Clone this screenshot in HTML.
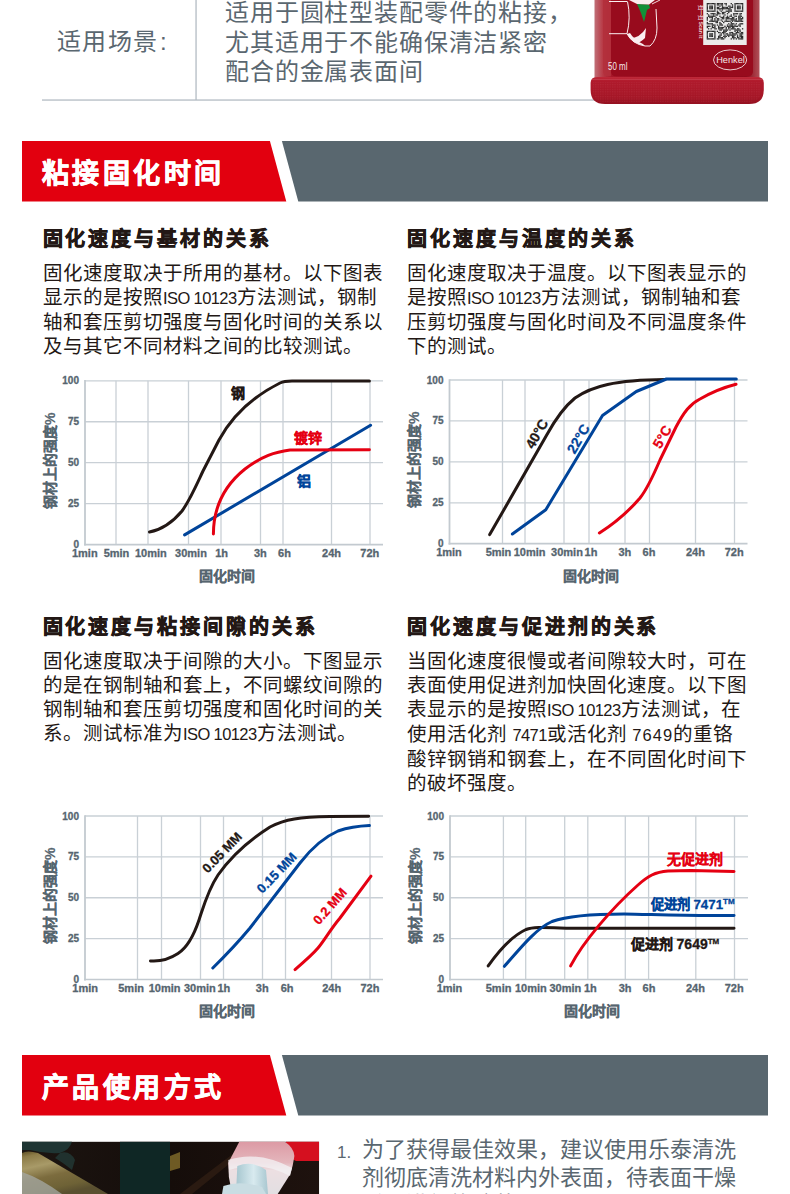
<!DOCTYPE html>
<html lang="zh-CN">
<head>
<meta charset="utf-8">
<style>
html,body{margin:0;padding:0;background:#fff;}
body{width:790px;height:1194px;position:relative;overflow:hidden;font-family:"Liberation Sans",sans-serif;}
.t{position:absolute;white-space:nowrap;}
.g{color:#5a6770;}
.k{color:#231815;}
.h{font-size:20px;line-height:32px;font-weight:bold;letter-spacing:2.95px;-webkit-text-stroke:0.7px #231815;}
.p{font-size:19.5px;line-height:24.1px;letter-spacing:0;}
.hd{font-size:27px;line-height:40px;color:#fff;font-weight:bold;letter-spacing:3.4px;-webkit-text-stroke:0.8px #fff;}
.l{font-size:16.5px;letter-spacing:-0.6px;}
svg text{font-family:"Liberation Sans",sans-serif;}
svg text.ns{stroke-width:0.2;}
</style>
</head>
<body>
<svg width="790" height="1194" style="position:absolute;left:0;top:0">
<rect x="42" y="99.4" width="560" height="1.3" fill="#b4bcc3"/>
<rect x="195.4" y="0" width="1.3" height="100" fill="#b4bcc3"/>
<polygon points="22,141 269.9,141 286.3,201.5 22,201.5" fill="#e2000f"/>
<polygon points="281.9,141 768,141 768,201.5 298.3,201.5" fill="#59676f"/>
<polygon points="22,1055 269.9,1055 286.3,1115.5 22,1115.5" fill="#e2000f"/>
<polygon points="281.9,1055 768,1055 768,1115.5 298.3,1115.5" fill="#59676f"/>
<line x1="85" y1="503.65" x2="383" y2="503.65" stroke="#c9d0d6" stroke-width="1.3"/>
<line x1="85" y1="462.70" x2="383" y2="462.70" stroke="#c9d0d6" stroke-width="1.3"/>
<line x1="85" y1="421.75" x2="383" y2="421.75" stroke="#c9d0d6" stroke-width="1.3"/>
<line x1="85" y1="380.80" x2="383" y2="380.80" stroke="#c9d0d6" stroke-width="1.3"/>
<line x1="116" y1="380.8" x2="116" y2="544.6" stroke="#c9d0d6" stroke-width="1.3"/>
<line x1="148" y1="380.8" x2="148" y2="544.6" stroke="#c9d0d6" stroke-width="1.3"/>
<line x1="188.5" y1="380.8" x2="188.5" y2="544.6" stroke="#c9d0d6" stroke-width="1.3"/>
<line x1="221" y1="380.8" x2="221" y2="544.6" stroke="#c9d0d6" stroke-width="1.3"/>
<line x1="260.5" y1="380.8" x2="260.5" y2="544.6" stroke="#c9d0d6" stroke-width="1.3"/>
<line x1="283" y1="380.8" x2="283" y2="544.6" stroke="#c9d0d6" stroke-width="1.3"/>
<line x1="331.5" y1="380.8" x2="331.5" y2="544.6" stroke="#c9d0d6" stroke-width="1.3"/>
<line x1="370" y1="380.8" x2="370" y2="544.6" stroke="#c9d0d6" stroke-width="1.3"/>
<line x1="85" y1="380.1" x2="85" y2="545.5" stroke="#c3cad0" stroke-width="1.8"/>
<line x1="84.1" y1="544.6" x2="383" y2="544.6" stroke="#c3cad0" stroke-width="1.7"/>
<text x="79" y="548.10" text-anchor="end" font-size="10" font-weight="bold" fill="#56656f" stroke="#56656f" stroke-width="0.3">0</text>
<text x="79" y="507.15" text-anchor="end" font-size="10" font-weight="bold" fill="#56656f" stroke="#56656f" stroke-width="0.3">25</text>
<text x="79" y="466.20" text-anchor="end" font-size="10" font-weight="bold" fill="#56656f" stroke="#56656f" stroke-width="0.3">50</text>
<text x="79" y="425.25" text-anchor="end" font-size="10" font-weight="bold" fill="#56656f" stroke="#56656f" stroke-width="0.3">75</text>
<text x="79" y="384.30" text-anchor="end" font-size="10" font-weight="bold" fill="#56656f" stroke="#56656f" stroke-width="0.3">100</text>
<text x="84.8" y="557.1" text-anchor="middle" font-size="11" font-weight="bold" fill="#56656f" stroke="#56656f" stroke-width="0.3">1min</text>
<text x="116.5" y="557.1" text-anchor="middle" font-size="11" font-weight="bold" fill="#56656f" stroke="#56656f" stroke-width="0.3">5min</text>
<text x="150.9" y="557.1" text-anchor="middle" font-size="11" font-weight="bold" fill="#56656f" stroke="#56656f" stroke-width="0.3">10min</text>
<text x="191" y="557.1" text-anchor="middle" font-size="11" font-weight="bold" fill="#56656f" stroke="#56656f" stroke-width="0.3">30min</text>
<text x="221.6" y="557.1" text-anchor="middle" font-size="11" font-weight="bold" fill="#56656f" stroke="#56656f" stroke-width="0.3">1h</text>
<text x="260.4" y="557.1" text-anchor="middle" font-size="11" font-weight="bold" fill="#56656f" stroke="#56656f" stroke-width="0.3">3h</text>
<text x="284.5" y="557.1" text-anchor="middle" font-size="11" font-weight="bold" fill="#56656f" stroke="#56656f" stroke-width="0.3">6h</text>
<text x="331.5" y="557.1" text-anchor="middle" font-size="11" font-weight="bold" fill="#56656f" stroke="#56656f" stroke-width="0.3">24h</text>
<text x="369.8" y="557.1" text-anchor="middle" font-size="11" font-weight="bold" fill="#56656f" stroke="#56656f" stroke-width="0.3">72h</text>
<text x="226.5" y="581.4" text-anchor="middle" font-size="14" font-weight="bold" fill="#56656f" stroke="#56656f" stroke-width="0.3" class="ns">固化时间</text>
<text x="50" y="460.70000000000005" transform="rotate(-90 50 460.70000000000005)" text-anchor="middle" dominant-baseline="central" font-size="14" font-weight="bold" fill="#56656f" stroke="#56656f" stroke-width="0.3" class="ns">钢材上的强度%</text>
<line x1="449.5" y1="502.78" x2="747.5" y2="502.78" stroke="#c9d0d6" stroke-width="1.3"/>
<line x1="449.5" y1="461.85" x2="747.5" y2="461.85" stroke="#c9d0d6" stroke-width="1.3"/>
<line x1="449.5" y1="420.93" x2="747.5" y2="420.93" stroke="#c9d0d6" stroke-width="1.3"/>
<line x1="449.5" y1="380.00" x2="747.5" y2="380.00" stroke="#c9d0d6" stroke-width="1.3"/>
<line x1="502.5" y1="380" x2="502.5" y2="543.7" stroke="#c9d0d6" stroke-width="1.3"/>
<line x1="525.0" y1="380" x2="525.0" y2="543.7" stroke="#c9d0d6" stroke-width="1.3"/>
<line x1="564.0" y1="380" x2="564.0" y2="543.7" stroke="#c9d0d6" stroke-width="1.3"/>
<line x1="589.0" y1="380" x2="589.0" y2="543.7" stroke="#c9d0d6" stroke-width="1.3"/>
<line x1="625.0" y1="380" x2="625.0" y2="543.7" stroke="#c9d0d6" stroke-width="1.3"/>
<line x1="649.5" y1="380" x2="649.5" y2="543.7" stroke="#c9d0d6" stroke-width="1.3"/>
<line x1="695.5" y1="380" x2="695.5" y2="543.7" stroke="#c9d0d6" stroke-width="1.3"/>
<line x1="734.5" y1="380" x2="734.5" y2="543.7" stroke="#c9d0d6" stroke-width="1.3"/>
<line x1="449.5" y1="379.3" x2="449.5" y2="544.6" stroke="#c3cad0" stroke-width="1.8"/>
<line x1="448.6" y1="543.7" x2="747.5" y2="543.7" stroke="#c3cad0" stroke-width="1.7"/>
<text x="443.5" y="547.20" text-anchor="end" font-size="10" font-weight="bold" fill="#56656f" stroke="#56656f" stroke-width="0.3">0</text>
<text x="443.5" y="506.28" text-anchor="end" font-size="10" font-weight="bold" fill="#56656f" stroke="#56656f" stroke-width="0.3">25</text>
<text x="443.5" y="465.35" text-anchor="end" font-size="10" font-weight="bold" fill="#56656f" stroke="#56656f" stroke-width="0.3">50</text>
<text x="443.5" y="424.43" text-anchor="end" font-size="10" font-weight="bold" fill="#56656f" stroke="#56656f" stroke-width="0.3">75</text>
<text x="443.5" y="383.50" text-anchor="end" font-size="10" font-weight="bold" fill="#56656f" stroke="#56656f" stroke-width="0.3">100</text>
<text x="449" y="556.2" text-anchor="middle" font-size="11" font-weight="bold" fill="#56656f" stroke="#56656f" stroke-width="0.3">1min</text>
<text x="498.5" y="556.2" text-anchor="middle" font-size="11" font-weight="bold" fill="#56656f" stroke="#56656f" stroke-width="0.3">5min</text>
<text x="529.6" y="556.2" text-anchor="middle" font-size="11" font-weight="bold" fill="#56656f" stroke="#56656f" stroke-width="0.3">10min</text>
<text x="567" y="556.2" text-anchor="middle" font-size="11" font-weight="bold" fill="#56656f" stroke="#56656f" stroke-width="0.3">30min</text>
<text x="591" y="556.2" text-anchor="middle" font-size="11" font-weight="bold" fill="#56656f" stroke="#56656f" stroke-width="0.3">1h</text>
<text x="624.9" y="556.2" text-anchor="middle" font-size="11" font-weight="bold" fill="#56656f" stroke="#56656f" stroke-width="0.3">3h</text>
<text x="649" y="556.2" text-anchor="middle" font-size="11" font-weight="bold" fill="#56656f" stroke="#56656f" stroke-width="0.3">6h</text>
<text x="695.4" y="556.2" text-anchor="middle" font-size="11" font-weight="bold" fill="#56656f" stroke="#56656f" stroke-width="0.3">24h</text>
<text x="734.2" y="556.2" text-anchor="middle" font-size="11" font-weight="bold" fill="#56656f" stroke="#56656f" stroke-width="0.3">72h</text>
<text x="591.0" y="580.5" text-anchor="middle" font-size="14" font-weight="bold" fill="#56656f" stroke="#56656f" stroke-width="0.3" class="ns">固化时间</text>
<text x="414.5" y="459.85" transform="rotate(-90 414.5 459.85)" text-anchor="middle" dominant-baseline="central" font-size="14" font-weight="bold" fill="#56656f" stroke="#56656f" stroke-width="0.3" class="ns">钢材上的强度%</text>
<line x1="85" y1="938.62" x2="383" y2="938.62" stroke="#c9d0d6" stroke-width="1.3"/>
<line x1="85" y1="897.75" x2="383" y2="897.75" stroke="#c9d0d6" stroke-width="1.3"/>
<line x1="85" y1="856.88" x2="383" y2="856.88" stroke="#c9d0d6" stroke-width="1.3"/>
<line x1="85" y1="816.00" x2="383" y2="816.00" stroke="#c9d0d6" stroke-width="1.3"/>
<line x1="137.5" y1="816" x2="137.5" y2="979.5" stroke="#c9d0d6" stroke-width="1.3"/>
<line x1="161.5" y1="816" x2="161.5" y2="979.5" stroke="#c9d0d6" stroke-width="1.3"/>
<line x1="200.5" y1="816" x2="200.5" y2="979.5" stroke="#c9d0d6" stroke-width="1.3"/>
<line x1="223.5" y1="816" x2="223.5" y2="979.5" stroke="#c9d0d6" stroke-width="1.3"/>
<line x1="262.5" y1="816" x2="262.5" y2="979.5" stroke="#c9d0d6" stroke-width="1.3"/>
<line x1="285.5" y1="816" x2="285.5" y2="979.5" stroke="#c9d0d6" stroke-width="1.3"/>
<line x1="331.5" y1="816" x2="331.5" y2="979.5" stroke="#c9d0d6" stroke-width="1.3"/>
<line x1="370" y1="816" x2="370" y2="979.5" stroke="#c9d0d6" stroke-width="1.3"/>
<line x1="85" y1="815.3" x2="85" y2="980.4" stroke="#c3cad0" stroke-width="1.8"/>
<line x1="84.1" y1="979.5" x2="383" y2="979.5" stroke="#c3cad0" stroke-width="1.7"/>
<text x="79" y="983.00" text-anchor="end" font-size="10" font-weight="bold" fill="#56656f" stroke="#56656f" stroke-width="0.3">0</text>
<text x="79" y="942.12" text-anchor="end" font-size="10" font-weight="bold" fill="#56656f" stroke="#56656f" stroke-width="0.3">25</text>
<text x="79" y="901.25" text-anchor="end" font-size="10" font-weight="bold" fill="#56656f" stroke="#56656f" stroke-width="0.3">50</text>
<text x="79" y="860.38" text-anchor="end" font-size="10" font-weight="bold" fill="#56656f" stroke="#56656f" stroke-width="0.3">75</text>
<text x="79" y="819.50" text-anchor="end" font-size="10" font-weight="bold" fill="#56656f" stroke="#56656f" stroke-width="0.3">100</text>
<text x="85.2" y="992.0" text-anchor="middle" font-size="11" font-weight="bold" fill="#56656f" stroke="#56656f" stroke-width="0.3">1min</text>
<text x="131.1" y="992.0" text-anchor="middle" font-size="11" font-weight="bold" fill="#56656f" stroke="#56656f" stroke-width="0.3">5min</text>
<text x="164.6" y="992.0" text-anchor="middle" font-size="11" font-weight="bold" fill="#56656f" stroke="#56656f" stroke-width="0.3">10min</text>
<text x="199.8" y="992.0" text-anchor="middle" font-size="11" font-weight="bold" fill="#56656f" stroke="#56656f" stroke-width="0.3">30min</text>
<text x="223.8" y="992.0" text-anchor="middle" font-size="11" font-weight="bold" fill="#56656f" stroke="#56656f" stroke-width="0.3">1h</text>
<text x="262.2" y="992.0" text-anchor="middle" font-size="11" font-weight="bold" fill="#56656f" stroke="#56656f" stroke-width="0.3">3h</text>
<text x="287.1" y="992.0" text-anchor="middle" font-size="11" font-weight="bold" fill="#56656f" stroke="#56656f" stroke-width="0.3">6h</text>
<text x="331.7" y="992.0" text-anchor="middle" font-size="11" font-weight="bold" fill="#56656f" stroke="#56656f" stroke-width="0.3">24h</text>
<text x="369.9" y="992.0" text-anchor="middle" font-size="11" font-weight="bold" fill="#56656f" stroke="#56656f" stroke-width="0.3">72h</text>
<text x="226.5" y="1016.3" text-anchor="middle" font-size="14" font-weight="bold" fill="#56656f" stroke="#56656f" stroke-width="0.3" class="ns">固化时间</text>
<text x="50" y="895.75" transform="rotate(-90 50 895.75)" text-anchor="middle" dominant-baseline="central" font-size="14" font-weight="bold" fill="#56656f" stroke="#56656f" stroke-width="0.3" class="ns">钢材上的强度%</text>
<line x1="450" y1="938.62" x2="748" y2="938.62" stroke="#c9d0d6" stroke-width="1.3"/>
<line x1="450" y1="897.75" x2="748" y2="897.75" stroke="#c9d0d6" stroke-width="1.3"/>
<line x1="450" y1="856.88" x2="748" y2="856.88" stroke="#c9d0d6" stroke-width="1.3"/>
<line x1="450" y1="816.00" x2="748" y2="816.00" stroke="#c9d0d6" stroke-width="1.3"/>
<line x1="503.4" y1="816" x2="503.4" y2="979.5" stroke="#c9d0d6" stroke-width="1.3"/>
<line x1="525.7" y1="816" x2="525.7" y2="979.5" stroke="#c9d0d6" stroke-width="1.3"/>
<line x1="564.7" y1="816" x2="564.7" y2="979.5" stroke="#c9d0d6" stroke-width="1.3"/>
<line x1="587.8" y1="816" x2="587.8" y2="979.5" stroke="#c9d0d6" stroke-width="1.3"/>
<line x1="625.3" y1="816" x2="625.3" y2="979.5" stroke="#c9d0d6" stroke-width="1.3"/>
<line x1="648.6" y1="816" x2="648.6" y2="979.5" stroke="#c9d0d6" stroke-width="1.3"/>
<line x1="695.8" y1="816" x2="695.8" y2="979.5" stroke="#c9d0d6" stroke-width="1.3"/>
<line x1="734.5" y1="816" x2="734.5" y2="979.5" stroke="#c9d0d6" stroke-width="1.3"/>
<line x1="450" y1="815.3" x2="450" y2="980.4" stroke="#c3cad0" stroke-width="1.8"/>
<line x1="449.1" y1="979.5" x2="748" y2="979.5" stroke="#c3cad0" stroke-width="1.7"/>
<text x="444" y="983.00" text-anchor="end" font-size="10" font-weight="bold" fill="#56656f" stroke="#56656f" stroke-width="0.3">0</text>
<text x="444" y="942.12" text-anchor="end" font-size="10" font-weight="bold" fill="#56656f" stroke="#56656f" stroke-width="0.3">25</text>
<text x="444" y="901.25" text-anchor="end" font-size="10" font-weight="bold" fill="#56656f" stroke="#56656f" stroke-width="0.3">50</text>
<text x="444" y="860.38" text-anchor="end" font-size="10" font-weight="bold" fill="#56656f" stroke="#56656f" stroke-width="0.3">75</text>
<text x="444" y="819.50" text-anchor="end" font-size="10" font-weight="bold" fill="#56656f" stroke="#56656f" stroke-width="0.3">100</text>
<text x="449.5" y="992.0" text-anchor="middle" font-size="11" font-weight="bold" fill="#56656f" stroke="#56656f" stroke-width="0.3">1min</text>
<text x="498.6" y="992.0" text-anchor="middle" font-size="11" font-weight="bold" fill="#56656f" stroke="#56656f" stroke-width="0.3">5min</text>
<text x="530.8" y="992.0" text-anchor="middle" font-size="11" font-weight="bold" fill="#56656f" stroke="#56656f" stroke-width="0.3">10min</text>
<text x="565.4" y="992.0" text-anchor="middle" font-size="11" font-weight="bold" fill="#56656f" stroke="#56656f" stroke-width="0.3">30min</text>
<text x="590.3" y="992.0" text-anchor="middle" font-size="11" font-weight="bold" fill="#56656f" stroke="#56656f" stroke-width="0.3">1h</text>
<text x="625.1" y="992.0" text-anchor="middle" font-size="11" font-weight="bold" fill="#56656f" stroke="#56656f" stroke-width="0.3">3h</text>
<text x="649" y="992.0" text-anchor="middle" font-size="11" font-weight="bold" fill="#56656f" stroke="#56656f" stroke-width="0.3">6h</text>
<text x="695.4" y="992.0" text-anchor="middle" font-size="11" font-weight="bold" fill="#56656f" stroke="#56656f" stroke-width="0.3">24h</text>
<text x="734.2" y="992.0" text-anchor="middle" font-size="11" font-weight="bold" fill="#56656f" stroke="#56656f" stroke-width="0.3">72h</text>
<text x="591.5" y="1016.3" text-anchor="middle" font-size="14" font-weight="bold" fill="#56656f" stroke="#56656f" stroke-width="0.3" class="ns">固化时间</text>
<text x="415" y="895.75" transform="rotate(-90 415 895.75)" text-anchor="middle" dominant-baseline="central" font-size="14" font-weight="bold" fill="#56656f" stroke="#56656f" stroke-width="0.3" class="ns">钢材上的强度%</text>
<path d="M149.5,532 C160,530 172,523 182,511 C190,500 196,486 203,471 L219,440 C230,420 250,398 280,383 C283,381.6 286,381.1 292,381.1 L369.4,381.1" fill="none" stroke="#231815" stroke-width="3" stroke-linecap="round" stroke-linejoin="round"/>
<path d="M184.6,534.9 L370.6,425.2" fill="none" stroke="#00449a" stroke-width="3" stroke-linecap="round" stroke-linejoin="round"/>
<path d="M213.4,534 C213.5,505 225,485 245,469 C262,456 275,452 290,450 L369.4,449.8" fill="none" stroke="#e50012" stroke-width="3" stroke-linecap="round" stroke-linejoin="round"/>
<text x="237.5" y="398" text-anchor="middle" font-size="14" font-weight="bold" fill="#231815" stroke="#231815" stroke-width="0.3">钢</text>
<text x="307.7" y="443" text-anchor="middle" font-size="14" font-weight="bold" fill="#e50012" stroke="#e50012" stroke-width="0.3">镀锌</text>
<text x="304.4" y="486" text-anchor="middle" font-size="14" font-weight="bold" fill="#00449a" stroke="#00449a" stroke-width="0.3">铝</text>
<path d="M489.7,534.6 L547,434.5 C555,420 564,407 575,398 C592,386 615,380 665,379.5" fill="none" stroke="#231815" stroke-width="3" stroke-linecap="round" stroke-linejoin="round"/>
<path d="M512.4,534 L545.8,509.7 L602.5,415.5 L636.3,391.5 L666.4,379 L736.3,379" fill="none" stroke="#00449a" stroke-width="3" stroke-linecap="round" stroke-linejoin="round"/>
<path d="M599.4,533 C612,525 628,512 640,498 C648,488 654,474 660,460 L676,427 C684,412 690,404 700,399 C712,392 725,387 736,384.2" fill="none" stroke="#e50012" stroke-width="3" stroke-linecap="round" stroke-linejoin="round"/>
<text x="536.7" y="433.7" transform="rotate(-60 536.7 433.7)" text-anchor="middle" dominant-baseline="central" font-size="14" font-weight="bold" fill="#231815" stroke="#231815" stroke-width="0.3">40°C</text>
<text x="578.2" y="438.8" transform="rotate(-60 578.2 438.8)" text-anchor="middle" dominant-baseline="central" font-size="14" font-weight="bold" fill="#00449a" stroke="#00449a" stroke-width="0.3">22°C</text>
<text x="662.1" y="436.7" transform="rotate(-60 662.1 436.7)" text-anchor="middle" dominant-baseline="central" font-size="14" font-weight="bold" fill="#e50012" stroke="#e50012" stroke-width="0.3">5°C</text>
<path d="M150.5,960.9 C158,961.5 168,960 178,953.5 C188,947 194,935 199,920 C204,905 208,890 218,875 C230,858 248,841 270,827 C285,819 300,817 330,816.5 L368.6,816.2" fill="none" stroke="#231815" stroke-width="3" stroke-linecap="round" stroke-linejoin="round"/>
<path d="M212.8,968 C225,956 240,940 250,928 L300,863 C310,850 322,838 338,831 C350,827 360,826 369.4,825.6" fill="none" stroke="#00449a" stroke-width="3" stroke-linecap="round" stroke-linejoin="round"/>
<path d="M295,969.6 C305,961 312,955 318,948 C324,941 330,930 340,918 L371,876.2" fill="none" stroke="#e50012" stroke-width="3" stroke-linecap="round" stroke-linejoin="round"/>
<text x="222" y="852.5" transform="rotate(-46 222 852.5)" text-anchor="middle" dominant-baseline="central" font-size="13" font-weight="bold" fill="#231815" stroke="#231815" stroke-width="0.3">0.05 MM</text>
<text x="276.7" y="872.8" transform="rotate(-46 276.7 872.8)" text-anchor="middle" dominant-baseline="central" font-size="13" font-weight="bold" fill="#00449a" stroke="#00449a" stroke-width="0.3">0.15 MM</text>
<text x="329.9" y="906.2" transform="rotate(-49 329.9 906.2)" text-anchor="middle" dominant-baseline="central" font-size="13" font-weight="bold" fill="#e50012" stroke="#e50012" stroke-width="0.3">0.2 MM</text>
<path d="M488.2,965.9 C498,952 512,936 526,929.5 C534,926.5 545,927.5 571,928.3 L734,928.2" fill="none" stroke="#231815" stroke-width="3" stroke-linecap="round" stroke-linejoin="round"/>
<path d="M504.4,966.3 C518,951 535,929 552,921.5 C570,915 600,914 624,914 C650,914.3 690,916.3 734,915.4" fill="none" stroke="#00449a" stroke-width="3" stroke-linecap="round" stroke-linejoin="round"/>
<path d="M570.6,965.9 C583,942 612,908 638,885 C648,876 655,872 668,871 L691,870.6 L734,871.5" fill="none" stroke="#e50012" stroke-width="3" stroke-linecap="round" stroke-linejoin="round"/>
<text x="695" y="864" text-anchor="middle" font-size="14" font-weight="bold" fill="#e50012" stroke="#e50012" stroke-width="0.3">无促进剂</text>
<text x="692.7" y="908.5" text-anchor="middle" font-size="13.3" font-weight="bold" fill="#00449a" stroke="#00449a" stroke-width="0.3">促进剂 7471<tspan font-size="8" dy="-5">TM</tspan></text>
<text x="675" y="948.5" text-anchor="middle" font-size="14" font-weight="bold" fill="#231815" stroke="#231815" stroke-width="0.3">促进剂 7649<tspan font-size="8" dy="-5">TM</tspan></text>
<g id="bottle">
<defs>
 <linearGradient id="bodyg" x1="0" y1="0" x2="1" y2="0">
  <stop offset="0" stop-color="#c07078"/>
  <stop offset="0.05" stop-color="#b83a46"/>
  <stop offset="0.1" stop-color="#a8182a"/>
  <stop offset="0.5" stop-color="#9a0c1e"/>
  <stop offset="0.92" stop-color="#8e0a1a"/>
  <stop offset="1" stop-color="#b05058"/>
 </linearGradient>
 <linearGradient id="baseg" x1="0" y1="0" x2="0" y2="1">
  <stop offset="0" stop-color="#bf2a3a"/>
  <stop offset="0.15" stop-color="#b01a2c"/>
  <stop offset="0.75" stop-color="#a51626"/>
  <stop offset="1" stop-color="#941020"/>
 </linearGradient>
 <pattern id="dots" x="0" y="0" width="2.4" height="2.4" patternUnits="userSpaceOnUse">
  <rect x="0" y="0" width="1.2" height="1.2" fill="#c85060" opacity="0.22"/>
 </pattern>
</defs>
<rect x="594.5" y="0" width="165" height="80" fill="url(#bodyg)"/>
<path d="M611,0 L753,0 L753,71 Q753,76.3 748,76.3 L616,76.3 Q611,76.3 611,71 Z" fill="#980b1d"/>
<path d="M603,0 L611,0 L611,76.3 L608,76.3 Q603,76.3 603,71 Z" fill="#b3303c" opacity="0.9"/>
<rect x="703.2" y="0" width="43.5" height="45" fill="#ecebeb"/>
<rect x="706.70" y="3.00" width="1.31" height="1.31" fill="#2a2a2a"/>
<rect x="707.96" y="3.00" width="1.31" height="1.31" fill="#2a2a2a"/>
<rect x="709.22" y="3.00" width="1.31" height="1.31" fill="#2a2a2a"/>
<rect x="710.48" y="3.00" width="1.31" height="1.31" fill="#2a2a2a"/>
<rect x="711.73" y="3.00" width="1.31" height="1.31" fill="#2a2a2a"/>
<rect x="712.99" y="3.00" width="1.31" height="1.31" fill="#2a2a2a"/>
<rect x="714.25" y="3.00" width="1.31" height="1.31" fill="#2a2a2a"/>
<rect x="716.77" y="3.00" width="1.31" height="1.31" fill="#2a2a2a"/>
<rect x="718.03" y="3.00" width="1.31" height="1.31" fill="#2a2a2a"/>
<rect x="719.29" y="3.00" width="1.31" height="1.31" fill="#2a2a2a"/>
<rect x="720.54" y="3.00" width="1.31" height="1.31" fill="#2a2a2a"/>
<rect x="721.80" y="3.00" width="1.31" height="1.31" fill="#2a2a2a"/>
<rect x="724.32" y="3.00" width="1.31" height="1.31" fill="#2a2a2a"/>
<rect x="725.58" y="3.00" width="1.31" height="1.31" fill="#2a2a2a"/>
<rect x="730.61" y="3.00" width="1.31" height="1.31" fill="#2a2a2a"/>
<rect x="734.39" y="3.00" width="1.31" height="1.31" fill="#2a2a2a"/>
<rect x="735.65" y="3.00" width="1.31" height="1.31" fill="#2a2a2a"/>
<rect x="736.91" y="3.00" width="1.31" height="1.31" fill="#2a2a2a"/>
<rect x="738.17" y="3.00" width="1.31" height="1.31" fill="#2a2a2a"/>
<rect x="739.42" y="3.00" width="1.31" height="1.31" fill="#2a2a2a"/>
<rect x="740.68" y="3.00" width="1.31" height="1.31" fill="#2a2a2a"/>
<rect x="741.94" y="3.00" width="1.31" height="1.31" fill="#2a2a2a"/>
<rect x="706.70" y="4.26" width="1.31" height="1.31" fill="#2a2a2a"/>
<rect x="714.25" y="4.26" width="1.31" height="1.31" fill="#2a2a2a"/>
<rect x="716.77" y="4.26" width="1.31" height="1.31" fill="#2a2a2a"/>
<rect x="718.03" y="4.26" width="1.31" height="1.31" fill="#2a2a2a"/>
<rect x="720.54" y="4.26" width="1.31" height="1.31" fill="#2a2a2a"/>
<rect x="721.80" y="4.26" width="1.31" height="1.31" fill="#2a2a2a"/>
<rect x="725.58" y="4.26" width="1.31" height="1.31" fill="#2a2a2a"/>
<rect x="731.87" y="4.26" width="1.31" height="1.31" fill="#2a2a2a"/>
<rect x="734.39" y="4.26" width="1.31" height="1.31" fill="#2a2a2a"/>
<rect x="741.94" y="4.26" width="1.31" height="1.31" fill="#2a2a2a"/>
<rect x="706.70" y="5.52" width="1.31" height="1.31" fill="#2a2a2a"/>
<rect x="709.22" y="5.52" width="1.31" height="1.31" fill="#2a2a2a"/>
<rect x="710.48" y="5.52" width="1.31" height="1.31" fill="#2a2a2a"/>
<rect x="711.73" y="5.52" width="1.31" height="1.31" fill="#2a2a2a"/>
<rect x="714.25" y="5.52" width="1.31" height="1.31" fill="#2a2a2a"/>
<rect x="719.29" y="5.52" width="1.31" height="1.31" fill="#2a2a2a"/>
<rect x="721.80" y="5.52" width="1.31" height="1.31" fill="#2a2a2a"/>
<rect x="728.10" y="5.52" width="1.31" height="1.31" fill="#2a2a2a"/>
<rect x="729.36" y="5.52" width="1.31" height="1.31" fill="#2a2a2a"/>
<rect x="731.87" y="5.52" width="1.31" height="1.31" fill="#2a2a2a"/>
<rect x="734.39" y="5.52" width="1.31" height="1.31" fill="#2a2a2a"/>
<rect x="736.91" y="5.52" width="1.31" height="1.31" fill="#2a2a2a"/>
<rect x="738.17" y="5.52" width="1.31" height="1.31" fill="#2a2a2a"/>
<rect x="739.42" y="5.52" width="1.31" height="1.31" fill="#2a2a2a"/>
<rect x="741.94" y="5.52" width="1.31" height="1.31" fill="#2a2a2a"/>
<rect x="706.70" y="6.78" width="1.31" height="1.31" fill="#2a2a2a"/>
<rect x="709.22" y="6.78" width="1.31" height="1.31" fill="#2a2a2a"/>
<rect x="710.48" y="6.78" width="1.31" height="1.31" fill="#2a2a2a"/>
<rect x="711.73" y="6.78" width="1.31" height="1.31" fill="#2a2a2a"/>
<rect x="714.25" y="6.78" width="1.31" height="1.31" fill="#2a2a2a"/>
<rect x="716.77" y="6.78" width="1.31" height="1.31" fill="#2a2a2a"/>
<rect x="718.03" y="6.78" width="1.31" height="1.31" fill="#2a2a2a"/>
<rect x="721.80" y="6.78" width="1.31" height="1.31" fill="#2a2a2a"/>
<rect x="723.06" y="6.78" width="1.31" height="1.31" fill="#2a2a2a"/>
<rect x="724.32" y="6.78" width="1.31" height="1.31" fill="#2a2a2a"/>
<rect x="725.58" y="6.78" width="1.31" height="1.31" fill="#2a2a2a"/>
<rect x="726.84" y="6.78" width="1.31" height="1.31" fill="#2a2a2a"/>
<rect x="729.36" y="6.78" width="1.31" height="1.31" fill="#2a2a2a"/>
<rect x="730.61" y="6.78" width="1.31" height="1.31" fill="#2a2a2a"/>
<rect x="731.87" y="6.78" width="1.31" height="1.31" fill="#2a2a2a"/>
<rect x="734.39" y="6.78" width="1.31" height="1.31" fill="#2a2a2a"/>
<rect x="736.91" y="6.78" width="1.31" height="1.31" fill="#2a2a2a"/>
<rect x="738.17" y="6.78" width="1.31" height="1.31" fill="#2a2a2a"/>
<rect x="739.42" y="6.78" width="1.31" height="1.31" fill="#2a2a2a"/>
<rect x="741.94" y="6.78" width="1.31" height="1.31" fill="#2a2a2a"/>
<rect x="706.70" y="8.03" width="1.31" height="1.31" fill="#2a2a2a"/>
<rect x="709.22" y="8.03" width="1.31" height="1.31" fill="#2a2a2a"/>
<rect x="710.48" y="8.03" width="1.31" height="1.31" fill="#2a2a2a"/>
<rect x="711.73" y="8.03" width="1.31" height="1.31" fill="#2a2a2a"/>
<rect x="714.25" y="8.03" width="1.31" height="1.31" fill="#2a2a2a"/>
<rect x="716.77" y="8.03" width="1.31" height="1.31" fill="#2a2a2a"/>
<rect x="718.03" y="8.03" width="1.31" height="1.31" fill="#2a2a2a"/>
<rect x="719.29" y="8.03" width="1.31" height="1.31" fill="#2a2a2a"/>
<rect x="720.54" y="8.03" width="1.31" height="1.31" fill="#2a2a2a"/>
<rect x="721.80" y="8.03" width="1.31" height="1.31" fill="#2a2a2a"/>
<rect x="723.06" y="8.03" width="1.31" height="1.31" fill="#2a2a2a"/>
<rect x="724.32" y="8.03" width="1.31" height="1.31" fill="#2a2a2a"/>
<rect x="725.58" y="8.03" width="1.31" height="1.31" fill="#2a2a2a"/>
<rect x="726.84" y="8.03" width="1.31" height="1.31" fill="#2a2a2a"/>
<rect x="728.10" y="8.03" width="1.31" height="1.31" fill="#2a2a2a"/>
<rect x="729.36" y="8.03" width="1.31" height="1.31" fill="#2a2a2a"/>
<rect x="734.39" y="8.03" width="1.31" height="1.31" fill="#2a2a2a"/>
<rect x="736.91" y="8.03" width="1.31" height="1.31" fill="#2a2a2a"/>
<rect x="738.17" y="8.03" width="1.31" height="1.31" fill="#2a2a2a"/>
<rect x="739.42" y="8.03" width="1.31" height="1.31" fill="#2a2a2a"/>
<rect x="741.94" y="8.03" width="1.31" height="1.31" fill="#2a2a2a"/>
<rect x="706.70" y="9.29" width="1.31" height="1.31" fill="#2a2a2a"/>
<rect x="714.25" y="9.29" width="1.31" height="1.31" fill="#2a2a2a"/>
<rect x="719.29" y="9.29" width="1.31" height="1.31" fill="#2a2a2a"/>
<rect x="721.80" y="9.29" width="1.31" height="1.31" fill="#2a2a2a"/>
<rect x="728.10" y="9.29" width="1.31" height="1.31" fill="#2a2a2a"/>
<rect x="729.36" y="9.29" width="1.31" height="1.31" fill="#2a2a2a"/>
<rect x="730.61" y="9.29" width="1.31" height="1.31" fill="#2a2a2a"/>
<rect x="734.39" y="9.29" width="1.31" height="1.31" fill="#2a2a2a"/>
<rect x="741.94" y="9.29" width="1.31" height="1.31" fill="#2a2a2a"/>
<rect x="706.70" y="10.55" width="1.31" height="1.31" fill="#2a2a2a"/>
<rect x="707.96" y="10.55" width="1.31" height="1.31" fill="#2a2a2a"/>
<rect x="709.22" y="10.55" width="1.31" height="1.31" fill="#2a2a2a"/>
<rect x="710.48" y="10.55" width="1.31" height="1.31" fill="#2a2a2a"/>
<rect x="711.73" y="10.55" width="1.31" height="1.31" fill="#2a2a2a"/>
<rect x="712.99" y="10.55" width="1.31" height="1.31" fill="#2a2a2a"/>
<rect x="714.25" y="10.55" width="1.31" height="1.31" fill="#2a2a2a"/>
<rect x="716.77" y="10.55" width="1.31" height="1.31" fill="#2a2a2a"/>
<rect x="720.54" y="10.55" width="1.31" height="1.31" fill="#2a2a2a"/>
<rect x="725.58" y="10.55" width="1.31" height="1.31" fill="#2a2a2a"/>
<rect x="726.84" y="10.55" width="1.31" height="1.31" fill="#2a2a2a"/>
<rect x="728.10" y="10.55" width="1.31" height="1.31" fill="#2a2a2a"/>
<rect x="729.36" y="10.55" width="1.31" height="1.31" fill="#2a2a2a"/>
<rect x="730.61" y="10.55" width="1.31" height="1.31" fill="#2a2a2a"/>
<rect x="734.39" y="10.55" width="1.31" height="1.31" fill="#2a2a2a"/>
<rect x="735.65" y="10.55" width="1.31" height="1.31" fill="#2a2a2a"/>
<rect x="736.91" y="10.55" width="1.31" height="1.31" fill="#2a2a2a"/>
<rect x="738.17" y="10.55" width="1.31" height="1.31" fill="#2a2a2a"/>
<rect x="739.42" y="10.55" width="1.31" height="1.31" fill="#2a2a2a"/>
<rect x="740.68" y="10.55" width="1.31" height="1.31" fill="#2a2a2a"/>
<rect x="741.94" y="10.55" width="1.31" height="1.31" fill="#2a2a2a"/>
<rect x="716.77" y="11.81" width="1.31" height="1.31" fill="#2a2a2a"/>
<rect x="718.03" y="11.81" width="1.31" height="1.31" fill="#2a2a2a"/>
<rect x="721.80" y="11.81" width="1.31" height="1.31" fill="#2a2a2a"/>
<rect x="723.06" y="11.81" width="1.31" height="1.31" fill="#2a2a2a"/>
<rect x="724.32" y="11.81" width="1.31" height="1.31" fill="#2a2a2a"/>
<rect x="728.10" y="11.81" width="1.31" height="1.31" fill="#2a2a2a"/>
<rect x="706.70" y="13.07" width="1.31" height="1.31" fill="#2a2a2a"/>
<rect x="710.48" y="13.07" width="1.31" height="1.31" fill="#2a2a2a"/>
<rect x="711.73" y="13.07" width="1.31" height="1.31" fill="#2a2a2a"/>
<rect x="712.99" y="13.07" width="1.31" height="1.31" fill="#2a2a2a"/>
<rect x="714.25" y="13.07" width="1.31" height="1.31" fill="#2a2a2a"/>
<rect x="716.77" y="13.07" width="1.31" height="1.31" fill="#2a2a2a"/>
<rect x="718.03" y="13.07" width="1.31" height="1.31" fill="#2a2a2a"/>
<rect x="719.29" y="13.07" width="1.31" height="1.31" fill="#2a2a2a"/>
<rect x="721.80" y="13.07" width="1.31" height="1.31" fill="#2a2a2a"/>
<rect x="723.06" y="13.07" width="1.31" height="1.31" fill="#2a2a2a"/>
<rect x="726.84" y="13.07" width="1.31" height="1.31" fill="#2a2a2a"/>
<rect x="733.13" y="13.07" width="1.31" height="1.31" fill="#2a2a2a"/>
<rect x="734.39" y="13.07" width="1.31" height="1.31" fill="#2a2a2a"/>
<rect x="735.65" y="13.07" width="1.31" height="1.31" fill="#2a2a2a"/>
<rect x="736.91" y="13.07" width="1.31" height="1.31" fill="#2a2a2a"/>
<rect x="739.42" y="13.07" width="1.31" height="1.31" fill="#2a2a2a"/>
<rect x="740.68" y="13.07" width="1.31" height="1.31" fill="#2a2a2a"/>
<rect x="707.96" y="14.33" width="1.31" height="1.31" fill="#2a2a2a"/>
<rect x="712.99" y="14.33" width="1.31" height="1.31" fill="#2a2a2a"/>
<rect x="715.51" y="14.33" width="1.31" height="1.31" fill="#2a2a2a"/>
<rect x="716.77" y="14.33" width="1.31" height="1.31" fill="#2a2a2a"/>
<rect x="724.32" y="14.33" width="1.31" height="1.31" fill="#2a2a2a"/>
<rect x="730.61" y="14.33" width="1.31" height="1.31" fill="#2a2a2a"/>
<rect x="733.13" y="14.33" width="1.31" height="1.31" fill="#2a2a2a"/>
<rect x="739.42" y="14.33" width="1.31" height="1.31" fill="#2a2a2a"/>
<rect x="707.96" y="15.59" width="1.31" height="1.31" fill="#2a2a2a"/>
<rect x="709.22" y="15.59" width="1.31" height="1.31" fill="#2a2a2a"/>
<rect x="710.48" y="15.59" width="1.31" height="1.31" fill="#2a2a2a"/>
<rect x="711.73" y="15.59" width="1.31" height="1.31" fill="#2a2a2a"/>
<rect x="712.99" y="15.59" width="1.31" height="1.31" fill="#2a2a2a"/>
<rect x="714.25" y="15.59" width="1.31" height="1.31" fill="#2a2a2a"/>
<rect x="719.29" y="15.59" width="1.31" height="1.31" fill="#2a2a2a"/>
<rect x="723.06" y="15.59" width="1.31" height="1.31" fill="#2a2a2a"/>
<rect x="726.84" y="15.59" width="1.31" height="1.31" fill="#2a2a2a"/>
<rect x="729.36" y="15.59" width="1.31" height="1.31" fill="#2a2a2a"/>
<rect x="730.61" y="15.59" width="1.31" height="1.31" fill="#2a2a2a"/>
<rect x="734.39" y="15.59" width="1.31" height="1.31" fill="#2a2a2a"/>
<rect x="735.65" y="15.59" width="1.31" height="1.31" fill="#2a2a2a"/>
<rect x="738.17" y="15.59" width="1.31" height="1.31" fill="#2a2a2a"/>
<rect x="739.42" y="15.59" width="1.31" height="1.31" fill="#2a2a2a"/>
<rect x="740.68" y="15.59" width="1.31" height="1.31" fill="#2a2a2a"/>
<rect x="706.70" y="16.84" width="1.31" height="1.31" fill="#2a2a2a"/>
<rect x="709.22" y="16.84" width="1.31" height="1.31" fill="#2a2a2a"/>
<rect x="710.48" y="16.84" width="1.31" height="1.31" fill="#2a2a2a"/>
<rect x="711.73" y="16.84" width="1.31" height="1.31" fill="#2a2a2a"/>
<rect x="715.51" y="16.84" width="1.31" height="1.31" fill="#2a2a2a"/>
<rect x="720.54" y="16.84" width="1.31" height="1.31" fill="#2a2a2a"/>
<rect x="721.80" y="16.84" width="1.31" height="1.31" fill="#2a2a2a"/>
<rect x="723.06" y="16.84" width="1.31" height="1.31" fill="#2a2a2a"/>
<rect x="725.58" y="16.84" width="1.31" height="1.31" fill="#2a2a2a"/>
<rect x="726.84" y="16.84" width="1.31" height="1.31" fill="#2a2a2a"/>
<rect x="728.10" y="16.84" width="1.31" height="1.31" fill="#2a2a2a"/>
<rect x="731.87" y="16.84" width="1.31" height="1.31" fill="#2a2a2a"/>
<rect x="733.13" y="16.84" width="1.31" height="1.31" fill="#2a2a2a"/>
<rect x="738.17" y="16.84" width="1.31" height="1.31" fill="#2a2a2a"/>
<rect x="739.42" y="16.84" width="1.31" height="1.31" fill="#2a2a2a"/>
<rect x="741.94" y="16.84" width="1.31" height="1.31" fill="#2a2a2a"/>
<rect x="706.70" y="18.10" width="1.31" height="1.31" fill="#2a2a2a"/>
<rect x="711.73" y="18.10" width="1.31" height="1.31" fill="#2a2a2a"/>
<rect x="714.25" y="18.10" width="1.31" height="1.31" fill="#2a2a2a"/>
<rect x="716.77" y="18.10" width="1.31" height="1.31" fill="#2a2a2a"/>
<rect x="718.03" y="18.10" width="1.31" height="1.31" fill="#2a2a2a"/>
<rect x="721.80" y="18.10" width="1.31" height="1.31" fill="#2a2a2a"/>
<rect x="723.06" y="18.10" width="1.31" height="1.31" fill="#2a2a2a"/>
<rect x="725.58" y="18.10" width="1.31" height="1.31" fill="#2a2a2a"/>
<rect x="726.84" y="18.10" width="1.31" height="1.31" fill="#2a2a2a"/>
<rect x="728.10" y="18.10" width="1.31" height="1.31" fill="#2a2a2a"/>
<rect x="729.36" y="18.10" width="1.31" height="1.31" fill="#2a2a2a"/>
<rect x="730.61" y="18.10" width="1.31" height="1.31" fill="#2a2a2a"/>
<rect x="731.87" y="18.10" width="1.31" height="1.31" fill="#2a2a2a"/>
<rect x="733.13" y="18.10" width="1.31" height="1.31" fill="#2a2a2a"/>
<rect x="735.65" y="18.10" width="1.31" height="1.31" fill="#2a2a2a"/>
<rect x="738.17" y="18.10" width="1.31" height="1.31" fill="#2a2a2a"/>
<rect x="739.42" y="18.10" width="1.31" height="1.31" fill="#2a2a2a"/>
<rect x="740.68" y="18.10" width="1.31" height="1.31" fill="#2a2a2a"/>
<rect x="741.94" y="18.10" width="1.31" height="1.31" fill="#2a2a2a"/>
<rect x="706.70" y="19.36" width="1.31" height="1.31" fill="#2a2a2a"/>
<rect x="710.48" y="19.36" width="1.31" height="1.31" fill="#2a2a2a"/>
<rect x="711.73" y="19.36" width="1.31" height="1.31" fill="#2a2a2a"/>
<rect x="714.25" y="19.36" width="1.31" height="1.31" fill="#2a2a2a"/>
<rect x="716.77" y="19.36" width="1.31" height="1.31" fill="#2a2a2a"/>
<rect x="718.03" y="19.36" width="1.31" height="1.31" fill="#2a2a2a"/>
<rect x="720.54" y="19.36" width="1.31" height="1.31" fill="#2a2a2a"/>
<rect x="725.58" y="19.36" width="1.31" height="1.31" fill="#2a2a2a"/>
<rect x="730.61" y="19.36" width="1.31" height="1.31" fill="#2a2a2a"/>
<rect x="731.87" y="19.36" width="1.31" height="1.31" fill="#2a2a2a"/>
<rect x="733.13" y="19.36" width="1.31" height="1.31" fill="#2a2a2a"/>
<rect x="734.39" y="19.36" width="1.31" height="1.31" fill="#2a2a2a"/>
<rect x="735.65" y="19.36" width="1.31" height="1.31" fill="#2a2a2a"/>
<rect x="738.17" y="19.36" width="1.31" height="1.31" fill="#2a2a2a"/>
<rect x="739.42" y="19.36" width="1.31" height="1.31" fill="#2a2a2a"/>
<rect x="740.68" y="19.36" width="1.31" height="1.31" fill="#2a2a2a"/>
<rect x="709.22" y="20.62" width="1.31" height="1.31" fill="#2a2a2a"/>
<rect x="710.48" y="20.62" width="1.31" height="1.31" fill="#2a2a2a"/>
<rect x="711.73" y="20.62" width="1.31" height="1.31" fill="#2a2a2a"/>
<rect x="712.99" y="20.62" width="1.31" height="1.31" fill="#2a2a2a"/>
<rect x="714.25" y="20.62" width="1.31" height="1.31" fill="#2a2a2a"/>
<rect x="715.51" y="20.62" width="1.31" height="1.31" fill="#2a2a2a"/>
<rect x="716.77" y="20.62" width="1.31" height="1.31" fill="#2a2a2a"/>
<rect x="721.80" y="20.62" width="1.31" height="1.31" fill="#2a2a2a"/>
<rect x="724.32" y="20.62" width="1.31" height="1.31" fill="#2a2a2a"/>
<rect x="725.58" y="20.62" width="1.31" height="1.31" fill="#2a2a2a"/>
<rect x="726.84" y="20.62" width="1.31" height="1.31" fill="#2a2a2a"/>
<rect x="728.10" y="20.62" width="1.31" height="1.31" fill="#2a2a2a"/>
<rect x="729.36" y="20.62" width="1.31" height="1.31" fill="#2a2a2a"/>
<rect x="731.87" y="20.62" width="1.31" height="1.31" fill="#2a2a2a"/>
<rect x="734.39" y="20.62" width="1.31" height="1.31" fill="#2a2a2a"/>
<rect x="735.65" y="20.62" width="1.31" height="1.31" fill="#2a2a2a"/>
<rect x="736.91" y="20.62" width="1.31" height="1.31" fill="#2a2a2a"/>
<rect x="738.17" y="20.62" width="1.31" height="1.31" fill="#2a2a2a"/>
<rect x="739.42" y="20.62" width="1.31" height="1.31" fill="#2a2a2a"/>
<rect x="740.68" y="20.62" width="1.31" height="1.31" fill="#2a2a2a"/>
<rect x="741.94" y="20.62" width="1.31" height="1.31" fill="#2a2a2a"/>
<rect x="706.70" y="21.88" width="1.31" height="1.31" fill="#2a2a2a"/>
<rect x="715.51" y="21.88" width="1.31" height="1.31" fill="#2a2a2a"/>
<rect x="716.77" y="21.88" width="1.31" height="1.31" fill="#2a2a2a"/>
<rect x="719.29" y="21.88" width="1.31" height="1.31" fill="#2a2a2a"/>
<rect x="723.06" y="21.88" width="1.31" height="1.31" fill="#2a2a2a"/>
<rect x="730.61" y="21.88" width="1.31" height="1.31" fill="#2a2a2a"/>
<rect x="706.70" y="23.14" width="1.31" height="1.31" fill="#2a2a2a"/>
<rect x="707.96" y="23.14" width="1.31" height="1.31" fill="#2a2a2a"/>
<rect x="709.22" y="23.14" width="1.31" height="1.31" fill="#2a2a2a"/>
<rect x="710.48" y="23.14" width="1.31" height="1.31" fill="#2a2a2a"/>
<rect x="711.73" y="23.14" width="1.31" height="1.31" fill="#2a2a2a"/>
<rect x="719.29" y="23.14" width="1.31" height="1.31" fill="#2a2a2a"/>
<rect x="720.54" y="23.14" width="1.31" height="1.31" fill="#2a2a2a"/>
<rect x="728.10" y="23.14" width="1.31" height="1.31" fill="#2a2a2a"/>
<rect x="730.61" y="23.14" width="1.31" height="1.31" fill="#2a2a2a"/>
<rect x="731.87" y="23.14" width="1.31" height="1.31" fill="#2a2a2a"/>
<rect x="733.13" y="23.14" width="1.31" height="1.31" fill="#2a2a2a"/>
<rect x="735.65" y="23.14" width="1.31" height="1.31" fill="#2a2a2a"/>
<rect x="739.42" y="23.14" width="1.31" height="1.31" fill="#2a2a2a"/>
<rect x="740.68" y="23.14" width="1.31" height="1.31" fill="#2a2a2a"/>
<rect x="741.94" y="23.14" width="1.31" height="1.31" fill="#2a2a2a"/>
<rect x="711.73" y="24.40" width="1.31" height="1.31" fill="#2a2a2a"/>
<rect x="712.99" y="24.40" width="1.31" height="1.31" fill="#2a2a2a"/>
<rect x="714.25" y="24.40" width="1.31" height="1.31" fill="#2a2a2a"/>
<rect x="716.77" y="24.40" width="1.31" height="1.31" fill="#2a2a2a"/>
<rect x="719.29" y="24.40" width="1.31" height="1.31" fill="#2a2a2a"/>
<rect x="720.54" y="24.40" width="1.31" height="1.31" fill="#2a2a2a"/>
<rect x="721.80" y="24.40" width="1.31" height="1.31" fill="#2a2a2a"/>
<rect x="726.84" y="24.40" width="1.31" height="1.31" fill="#2a2a2a"/>
<rect x="729.36" y="24.40" width="1.31" height="1.31" fill="#2a2a2a"/>
<rect x="730.61" y="24.40" width="1.31" height="1.31" fill="#2a2a2a"/>
<rect x="731.87" y="24.40" width="1.31" height="1.31" fill="#2a2a2a"/>
<rect x="734.39" y="24.40" width="1.31" height="1.31" fill="#2a2a2a"/>
<rect x="738.17" y="24.40" width="1.31" height="1.31" fill="#2a2a2a"/>
<rect x="739.42" y="24.40" width="1.31" height="1.31" fill="#2a2a2a"/>
<rect x="706.70" y="25.66" width="1.31" height="1.31" fill="#2a2a2a"/>
<rect x="707.96" y="25.66" width="1.31" height="1.31" fill="#2a2a2a"/>
<rect x="709.22" y="25.66" width="1.31" height="1.31" fill="#2a2a2a"/>
<rect x="711.73" y="25.66" width="1.31" height="1.31" fill="#2a2a2a"/>
<rect x="714.25" y="25.66" width="1.31" height="1.31" fill="#2a2a2a"/>
<rect x="718.03" y="25.66" width="1.31" height="1.31" fill="#2a2a2a"/>
<rect x="724.32" y="25.66" width="1.31" height="1.31" fill="#2a2a2a"/>
<rect x="726.84" y="25.66" width="1.31" height="1.31" fill="#2a2a2a"/>
<rect x="728.10" y="25.66" width="1.31" height="1.31" fill="#2a2a2a"/>
<rect x="729.36" y="25.66" width="1.31" height="1.31" fill="#2a2a2a"/>
<rect x="730.61" y="25.66" width="1.31" height="1.31" fill="#2a2a2a"/>
<rect x="731.87" y="25.66" width="1.31" height="1.31" fill="#2a2a2a"/>
<rect x="733.13" y="25.66" width="1.31" height="1.31" fill="#2a2a2a"/>
<rect x="734.39" y="25.66" width="1.31" height="1.31" fill="#2a2a2a"/>
<rect x="735.65" y="25.66" width="1.31" height="1.31" fill="#2a2a2a"/>
<rect x="736.91" y="25.66" width="1.31" height="1.31" fill="#2a2a2a"/>
<rect x="739.42" y="25.66" width="1.31" height="1.31" fill="#2a2a2a"/>
<rect x="706.70" y="26.91" width="1.31" height="1.31" fill="#2a2a2a"/>
<rect x="711.73" y="26.91" width="1.31" height="1.31" fill="#2a2a2a"/>
<rect x="712.99" y="26.91" width="1.31" height="1.31" fill="#2a2a2a"/>
<rect x="714.25" y="26.91" width="1.31" height="1.31" fill="#2a2a2a"/>
<rect x="718.03" y="26.91" width="1.31" height="1.31" fill="#2a2a2a"/>
<rect x="719.29" y="26.91" width="1.31" height="1.31" fill="#2a2a2a"/>
<rect x="720.54" y="26.91" width="1.31" height="1.31" fill="#2a2a2a"/>
<rect x="721.80" y="26.91" width="1.31" height="1.31" fill="#2a2a2a"/>
<rect x="723.06" y="26.91" width="1.31" height="1.31" fill="#2a2a2a"/>
<rect x="725.58" y="26.91" width="1.31" height="1.31" fill="#2a2a2a"/>
<rect x="728.10" y="26.91" width="1.31" height="1.31" fill="#2a2a2a"/>
<rect x="729.36" y="26.91" width="1.31" height="1.31" fill="#2a2a2a"/>
<rect x="731.87" y="26.91" width="1.31" height="1.31" fill="#2a2a2a"/>
<rect x="733.13" y="26.91" width="1.31" height="1.31" fill="#2a2a2a"/>
<rect x="707.96" y="28.17" width="1.31" height="1.31" fill="#2a2a2a"/>
<rect x="710.48" y="28.17" width="1.31" height="1.31" fill="#2a2a2a"/>
<rect x="714.25" y="28.17" width="1.31" height="1.31" fill="#2a2a2a"/>
<rect x="715.51" y="28.17" width="1.31" height="1.31" fill="#2a2a2a"/>
<rect x="718.03" y="28.17" width="1.31" height="1.31" fill="#2a2a2a"/>
<rect x="719.29" y="28.17" width="1.31" height="1.31" fill="#2a2a2a"/>
<rect x="720.54" y="28.17" width="1.31" height="1.31" fill="#2a2a2a"/>
<rect x="721.80" y="28.17" width="1.31" height="1.31" fill="#2a2a2a"/>
<rect x="725.58" y="28.17" width="1.31" height="1.31" fill="#2a2a2a"/>
<rect x="728.10" y="28.17" width="1.31" height="1.31" fill="#2a2a2a"/>
<rect x="730.61" y="28.17" width="1.31" height="1.31" fill="#2a2a2a"/>
<rect x="731.87" y="28.17" width="1.31" height="1.31" fill="#2a2a2a"/>
<rect x="733.13" y="28.17" width="1.31" height="1.31" fill="#2a2a2a"/>
<rect x="734.39" y="28.17" width="1.31" height="1.31" fill="#2a2a2a"/>
<rect x="736.91" y="28.17" width="1.31" height="1.31" fill="#2a2a2a"/>
<rect x="738.17" y="28.17" width="1.31" height="1.31" fill="#2a2a2a"/>
<rect x="741.94" y="28.17" width="1.31" height="1.31" fill="#2a2a2a"/>
<rect x="719.29" y="29.43" width="1.31" height="1.31" fill="#2a2a2a"/>
<rect x="720.54" y="29.43" width="1.31" height="1.31" fill="#2a2a2a"/>
<rect x="723.06" y="29.43" width="1.31" height="1.31" fill="#2a2a2a"/>
<rect x="724.32" y="29.43" width="1.31" height="1.31" fill="#2a2a2a"/>
<rect x="725.58" y="29.43" width="1.31" height="1.31" fill="#2a2a2a"/>
<rect x="726.84" y="29.43" width="1.31" height="1.31" fill="#2a2a2a"/>
<rect x="729.36" y="29.43" width="1.31" height="1.31" fill="#2a2a2a"/>
<rect x="734.39" y="29.43" width="1.31" height="1.31" fill="#2a2a2a"/>
<rect x="735.65" y="29.43" width="1.31" height="1.31" fill="#2a2a2a"/>
<rect x="736.91" y="29.43" width="1.31" height="1.31" fill="#2a2a2a"/>
<rect x="738.17" y="29.43" width="1.31" height="1.31" fill="#2a2a2a"/>
<rect x="739.42" y="29.43" width="1.31" height="1.31" fill="#2a2a2a"/>
<rect x="706.70" y="30.69" width="1.31" height="1.31" fill="#2a2a2a"/>
<rect x="707.96" y="30.69" width="1.31" height="1.31" fill="#2a2a2a"/>
<rect x="709.22" y="30.69" width="1.31" height="1.31" fill="#2a2a2a"/>
<rect x="710.48" y="30.69" width="1.31" height="1.31" fill="#2a2a2a"/>
<rect x="711.73" y="30.69" width="1.31" height="1.31" fill="#2a2a2a"/>
<rect x="712.99" y="30.69" width="1.31" height="1.31" fill="#2a2a2a"/>
<rect x="714.25" y="30.69" width="1.31" height="1.31" fill="#2a2a2a"/>
<rect x="716.77" y="30.69" width="1.31" height="1.31" fill="#2a2a2a"/>
<rect x="723.06" y="30.69" width="1.31" height="1.31" fill="#2a2a2a"/>
<rect x="724.32" y="30.69" width="1.31" height="1.31" fill="#2a2a2a"/>
<rect x="725.58" y="30.69" width="1.31" height="1.31" fill="#2a2a2a"/>
<rect x="734.39" y="30.69" width="1.31" height="1.31" fill="#2a2a2a"/>
<rect x="736.91" y="30.69" width="1.31" height="1.31" fill="#2a2a2a"/>
<rect x="739.42" y="30.69" width="1.31" height="1.31" fill="#2a2a2a"/>
<rect x="706.70" y="31.95" width="1.31" height="1.31" fill="#2a2a2a"/>
<rect x="714.25" y="31.95" width="1.31" height="1.31" fill="#2a2a2a"/>
<rect x="718.03" y="31.95" width="1.31" height="1.31" fill="#2a2a2a"/>
<rect x="719.29" y="31.95" width="1.31" height="1.31" fill="#2a2a2a"/>
<rect x="721.80" y="31.95" width="1.31" height="1.31" fill="#2a2a2a"/>
<rect x="723.06" y="31.95" width="1.31" height="1.31" fill="#2a2a2a"/>
<rect x="724.32" y="31.95" width="1.31" height="1.31" fill="#2a2a2a"/>
<rect x="729.36" y="31.95" width="1.31" height="1.31" fill="#2a2a2a"/>
<rect x="730.61" y="31.95" width="1.31" height="1.31" fill="#2a2a2a"/>
<rect x="731.87" y="31.95" width="1.31" height="1.31" fill="#2a2a2a"/>
<rect x="735.65" y="31.95" width="1.31" height="1.31" fill="#2a2a2a"/>
<rect x="736.91" y="31.95" width="1.31" height="1.31" fill="#2a2a2a"/>
<rect x="738.17" y="31.95" width="1.31" height="1.31" fill="#2a2a2a"/>
<rect x="740.68" y="31.95" width="1.31" height="1.31" fill="#2a2a2a"/>
<rect x="741.94" y="31.95" width="1.31" height="1.31" fill="#2a2a2a"/>
<rect x="706.70" y="33.21" width="1.31" height="1.31" fill="#2a2a2a"/>
<rect x="709.22" y="33.21" width="1.31" height="1.31" fill="#2a2a2a"/>
<rect x="710.48" y="33.21" width="1.31" height="1.31" fill="#2a2a2a"/>
<rect x="711.73" y="33.21" width="1.31" height="1.31" fill="#2a2a2a"/>
<rect x="714.25" y="33.21" width="1.31" height="1.31" fill="#2a2a2a"/>
<rect x="720.54" y="33.21" width="1.31" height="1.31" fill="#2a2a2a"/>
<rect x="723.06" y="33.21" width="1.31" height="1.31" fill="#2a2a2a"/>
<rect x="725.58" y="33.21" width="1.31" height="1.31" fill="#2a2a2a"/>
<rect x="726.84" y="33.21" width="1.31" height="1.31" fill="#2a2a2a"/>
<rect x="729.36" y="33.21" width="1.31" height="1.31" fill="#2a2a2a"/>
<rect x="731.87" y="33.21" width="1.31" height="1.31" fill="#2a2a2a"/>
<rect x="733.13" y="33.21" width="1.31" height="1.31" fill="#2a2a2a"/>
<rect x="734.39" y="33.21" width="1.31" height="1.31" fill="#2a2a2a"/>
<rect x="735.65" y="33.21" width="1.31" height="1.31" fill="#2a2a2a"/>
<rect x="739.42" y="33.21" width="1.31" height="1.31" fill="#2a2a2a"/>
<rect x="740.68" y="33.21" width="1.31" height="1.31" fill="#2a2a2a"/>
<rect x="741.94" y="33.21" width="1.31" height="1.31" fill="#2a2a2a"/>
<rect x="706.70" y="34.47" width="1.31" height="1.31" fill="#2a2a2a"/>
<rect x="709.22" y="34.47" width="1.31" height="1.31" fill="#2a2a2a"/>
<rect x="710.48" y="34.47" width="1.31" height="1.31" fill="#2a2a2a"/>
<rect x="711.73" y="34.47" width="1.31" height="1.31" fill="#2a2a2a"/>
<rect x="714.25" y="34.47" width="1.31" height="1.31" fill="#2a2a2a"/>
<rect x="719.29" y="34.47" width="1.31" height="1.31" fill="#2a2a2a"/>
<rect x="720.54" y="34.47" width="1.31" height="1.31" fill="#2a2a2a"/>
<rect x="724.32" y="34.47" width="1.31" height="1.31" fill="#2a2a2a"/>
<rect x="726.84" y="34.47" width="1.31" height="1.31" fill="#2a2a2a"/>
<rect x="728.10" y="34.47" width="1.31" height="1.31" fill="#2a2a2a"/>
<rect x="729.36" y="34.47" width="1.31" height="1.31" fill="#2a2a2a"/>
<rect x="730.61" y="34.47" width="1.31" height="1.31" fill="#2a2a2a"/>
<rect x="731.87" y="34.47" width="1.31" height="1.31" fill="#2a2a2a"/>
<rect x="733.13" y="34.47" width="1.31" height="1.31" fill="#2a2a2a"/>
<rect x="734.39" y="34.47" width="1.31" height="1.31" fill="#2a2a2a"/>
<rect x="736.91" y="34.47" width="1.31" height="1.31" fill="#2a2a2a"/>
<rect x="739.42" y="34.47" width="1.31" height="1.31" fill="#2a2a2a"/>
<rect x="740.68" y="34.47" width="1.31" height="1.31" fill="#2a2a2a"/>
<rect x="706.70" y="35.72" width="1.31" height="1.31" fill="#2a2a2a"/>
<rect x="709.22" y="35.72" width="1.31" height="1.31" fill="#2a2a2a"/>
<rect x="710.48" y="35.72" width="1.31" height="1.31" fill="#2a2a2a"/>
<rect x="711.73" y="35.72" width="1.31" height="1.31" fill="#2a2a2a"/>
<rect x="714.25" y="35.72" width="1.31" height="1.31" fill="#2a2a2a"/>
<rect x="718.03" y="35.72" width="1.31" height="1.31" fill="#2a2a2a"/>
<rect x="719.29" y="35.72" width="1.31" height="1.31" fill="#2a2a2a"/>
<rect x="723.06" y="35.72" width="1.31" height="1.31" fill="#2a2a2a"/>
<rect x="724.32" y="35.72" width="1.31" height="1.31" fill="#2a2a2a"/>
<rect x="725.58" y="35.72" width="1.31" height="1.31" fill="#2a2a2a"/>
<rect x="728.10" y="35.72" width="1.31" height="1.31" fill="#2a2a2a"/>
<rect x="731.87" y="35.72" width="1.31" height="1.31" fill="#2a2a2a"/>
<rect x="733.13" y="35.72" width="1.31" height="1.31" fill="#2a2a2a"/>
<rect x="736.91" y="35.72" width="1.31" height="1.31" fill="#2a2a2a"/>
<rect x="739.42" y="35.72" width="1.31" height="1.31" fill="#2a2a2a"/>
<rect x="740.68" y="35.72" width="1.31" height="1.31" fill="#2a2a2a"/>
<rect x="741.94" y="35.72" width="1.31" height="1.31" fill="#2a2a2a"/>
<rect x="706.70" y="36.98" width="1.31" height="1.31" fill="#2a2a2a"/>
<rect x="714.25" y="36.98" width="1.31" height="1.31" fill="#2a2a2a"/>
<rect x="718.03" y="36.98" width="1.31" height="1.31" fill="#2a2a2a"/>
<rect x="719.29" y="36.98" width="1.31" height="1.31" fill="#2a2a2a"/>
<rect x="720.54" y="36.98" width="1.31" height="1.31" fill="#2a2a2a"/>
<rect x="721.80" y="36.98" width="1.31" height="1.31" fill="#2a2a2a"/>
<rect x="724.32" y="36.98" width="1.31" height="1.31" fill="#2a2a2a"/>
<rect x="731.87" y="36.98" width="1.31" height="1.31" fill="#2a2a2a"/>
<rect x="733.13" y="36.98" width="1.31" height="1.31" fill="#2a2a2a"/>
<rect x="734.39" y="36.98" width="1.31" height="1.31" fill="#2a2a2a"/>
<rect x="736.91" y="36.98" width="1.31" height="1.31" fill="#2a2a2a"/>
<rect x="738.17" y="36.98" width="1.31" height="1.31" fill="#2a2a2a"/>
<rect x="740.68" y="36.98" width="1.31" height="1.31" fill="#2a2a2a"/>
<rect x="741.94" y="36.98" width="1.31" height="1.31" fill="#2a2a2a"/>
<rect x="706.70" y="38.24" width="1.31" height="1.31" fill="#2a2a2a"/>
<rect x="707.96" y="38.24" width="1.31" height="1.31" fill="#2a2a2a"/>
<rect x="709.22" y="38.24" width="1.31" height="1.31" fill="#2a2a2a"/>
<rect x="710.48" y="38.24" width="1.31" height="1.31" fill="#2a2a2a"/>
<rect x="711.73" y="38.24" width="1.31" height="1.31" fill="#2a2a2a"/>
<rect x="712.99" y="38.24" width="1.31" height="1.31" fill="#2a2a2a"/>
<rect x="714.25" y="38.24" width="1.31" height="1.31" fill="#2a2a2a"/>
<rect x="716.77" y="38.24" width="1.31" height="1.31" fill="#2a2a2a"/>
<rect x="718.03" y="38.24" width="1.31" height="1.31" fill="#2a2a2a"/>
<rect x="720.54" y="38.24" width="1.31" height="1.31" fill="#2a2a2a"/>
<rect x="721.80" y="38.24" width="1.31" height="1.31" fill="#2a2a2a"/>
<rect x="723.06" y="38.24" width="1.31" height="1.31" fill="#2a2a2a"/>
<rect x="730.61" y="38.24" width="1.31" height="1.31" fill="#2a2a2a"/>
<rect x="733.13" y="38.24" width="1.31" height="1.31" fill="#2a2a2a"/>
<rect x="735.65" y="38.24" width="1.31" height="1.31" fill="#2a2a2a"/>
<rect x="738.17" y="38.24" width="1.31" height="1.31" fill="#2a2a2a"/>
<rect x="739.42" y="38.24" width="1.31" height="1.31" fill="#2a2a2a"/>
<rect x="740.68" y="38.24" width="1.31" height="1.31" fill="#2a2a2a"/>
<rect x="741.94" y="38.24" width="1.31" height="1.31" fill="#2a2a2a"/>
<g fill="#f1d9dc" font-family="Liberation Sans, sans-serif" font-size="5.2" font-weight="bold">
 <text x="0" y="0" transform="translate(699.2,5) rotate(90)">扫一扫 Scan it</text>
</g>
<ellipse cx="730.1" cy="59.9" rx="16.6" ry="10" fill="none" stroke="#f3dfe2" stroke-width="0.9"/>
<text x="730.5" y="63.4" text-anchor="middle" font-size="9.2" fill="#f5e6e8" font-family="Liberation Sans, sans-serif">Henkel</text>
<text x="608" y="70.4" font-size="10.2" fill="#f6e8ea" font-family="Liberation Sans, sans-serif" transform="translate(608,0) scale(0.78,1) translate(-608,0)">50 ml</text>
<!-- drawing -->
<g fill="none" stroke="#fbeef0" stroke-width="1">
 <line x1="609" y1="1.5" x2="627" y2="1.5"/>
 <line x1="609" y1="33.7" x2="627" y2="33.7"/>
 <path d="M627.5,1.5 Q631,18 627,33.7 Q632,44 645,46 L650,46 Q657,40 657,28 L656,9"/>
</g>
<path d="M627,34 Q631,43 645,46 L643,44 Q634,40 630,33 Z" fill="#fbeef0"/>
<path d="M630,38 Q640,38 646,28 L645,38 Q640,43 636,43 Z" fill="#fbeef0"/>
<path d="M637,4 L649,4.5 L650,8 L647,10 L644,22 Q641,12 637,4 Z" fill="#129038"/>
<path d="M629,0 L655,0 L649,4.5 L637,4 Z" fill="#fbeef0"/>
<line x1="652" y1="4" x2="660" y2="0" stroke="#f0d8dc" stroke-width="1"/>
<!-- base -->
<path d="M590.6,83 Q590.6,77 597,77 L757.5,77 Q763.8,77 763.8,83 L763.8,90 Q763.8,104 749,104 L605,104 Q590.6,104 590.6,90 Z" fill="url(#baseg)"/>
<path d="M593,82 L761,82 L761,92 Q760,102 749,102 L605,102 Q594,102 593,92 Z" fill="url(#dots)"/>
<path d="M592,79.5 L762,79.5" stroke="#c84654" stroke-width="1" opacity="0.6"/>
</g>
<g id="photo">
<defs>
 <clipPath id="pclip"><rect x="22" y="1141.6" width="297.2" height="53"/></clipPath>
 <linearGradient id="goldg" x1="0" y1="0" x2="0.45" y2="1">
  <stop offset="0" stop-color="#5e4e24"/>
  <stop offset="0.12" stop-color="#8d7c48"/>
  <stop offset="0.35" stop-color="#a89a68"/>
  <stop offset="0.6" stop-color="#7c6c3e"/>
  <stop offset="0.85" stop-color="#6e6236"/>
  <stop offset="1" stop-color="#5a5030"/>
 </linearGradient>
 <linearGradient id="capg" x1="0" y1="0" x2="0" y2="1">
  <stop offset="0" stop-color="#dc9aa4"/>
  <stop offset="0.4" stop-color="#e4b6bc"/>
  <stop offset="0.55" stop-color="#ecdfe2"/>
  <stop offset="1" stop-color="#e2dfe2"/>
 </linearGradient>
 <linearGradient id="nozg" x1="0" y1="0" x2="1" y2="0">
  <stop offset="0" stop-color="#a6c6cf"/>
  <stop offset="0.55" stop-color="#d8eaef"/>
  <stop offset="1" stop-color="#a9c7d0"/>
 </linearGradient>
 <linearGradient id="darkg" x1="0" y1="0" x2="1" y2="0">
  <stop offset="0" stop-color="#1c1511"/>
  <stop offset="0.5" stop-color="#150d0a"/>
  <stop offset="1" stop-color="#1e120e"/>
 </linearGradient>
</defs>
<g clip-path="url(#pclip)">
 <rect x="22" y="1141.6" width="297.2" height="53" fill="url(#darkg)"/>
 <path d="M22,1141.6 L72,1141.6 Q70,1150 60,1153 Q45,1154 30,1150 L22,1150 Z" fill="#1f3533"/>
 <path d="M60,1153 Q70,1150 75,1160 L72,1170 Q62,1162 55,1158 Z" fill="#223a36" opacity="0.8"/>
 <rect x="120" y="1141.6" width="50" height="53" fill="#0f2725"/>
 <path d="M170,1156 L180,1152 L180,1168 L170,1171 Z" fill="#6e5a24"/>
 <path d="M22,1153 Q27,1150 38,1153 L108,1194 L22,1194 Z" fill="url(#goldg)"/>
 <path d="M22,1172 Q40,1178 62,1194 L22,1194 Z" fill="#a6aaa6" opacity="0.75"/>
 <path d="M180,1194 L238,1150 L244,1152 L192,1194 Z" fill="#2c1c12" opacity="0.9"/>
 <path d="M286,1141.6 L319.2,1141.6 L319.2,1161 L296,1161 Q287,1158 286,1150 Z" fill="#d5101f"/>
 <path d="M239.4,1141.6 L284.6,1141.6 Q294,1148 294.4,1156 Q293,1166 290.2,1174.2 L277.7,1194 L232,1194 L228.9,1177 L228.2,1163 Z" fill="url(#capg)"/>
 <path d="M228.2,1160 Q258,1150 292,1168 L290,1176 Q260,1160 229,1170 Z" fill="#f2f0f2" opacity="0.8"/>
 <path d="M237.3,1166 Q252,1160 266,1170 L268,1194 L236,1194 Z" fill="url(#nozg)"/>
 <path d="M223.4,1186 Q240,1180 262,1187 L266,1194 L222,1194 Z" fill="#c9dde3"/>
</g>
</g>
</svg>

<div class="t g" style="left:57px;top:25px;font-size:24px;line-height:34px;letter-spacing:1.4px;">适用场景<span style="margin-left:1.5px">:</span></div>
<div class="t g" style="left:225px;top:-2px;font-size:24px;line-height:29.6px;letter-spacing:0.84px;">适用于圆柱型装配零件的粘接，<br>尤其适用于不能确保清洁紧密<br>配合的金属表面间</div>

<div class="t hd" style="left:42px;top:154px;">粘接固化时间</div>

<div class="t k h" style="left:42.5px;top:222.9px;">固化速度与基材的关系</div>
<div class="t k p" style="left:43px;top:260.5px;">固化速度取决于所用的基材。以下图表<br>显示的是按照<span class="l">ISO 10123</span>方法测试，钢制<br>轴和套压剪切强度与固化时间的关系以<br>及与其它不同材料之间的比较测试。</div>

<div class="t k h" style="left:407px;top:222.9px;">固化速度与温度的关系</div>
<div class="t k p" style="left:407px;top:260.5px;">固化速度取决于温度。以下图表显示的<br>是按照<span class="l">ISO 10123</span>方法测试，钢制轴和套<br>压剪切强度与固化时间及不同温度条件<br>下的测试。</div>

<div class="t k h" style="left:42.5px;top:610.5px;">固化速度与粘接间隙的关系</div>
<div class="t k p" style="left:43px;top:648.5px;">固化速度取决于间隙的大小。下图显示<br>的是在钢制轴和套上，不同螺纹间隙的<br>钢制轴和套压剪切强度和固化时间的关<br>系。测试标准为<span class="l">ISO 10123</span>方法测试。</div>

<div class="t k h" style="left:407px;top:610.5px;">固化速度与促进剂的关系</div>
<div class="t k p" style="left:407px;top:648.5px;">当固化速度很慢或者间隙较大时，可在<br>表面使用促进剂加快固化速度。以下图<br>表显示的是按照<span class="l">ISO 10123</span>方法测试，在<br>使用活化剂 <span class="l">7471</span>或活化剂 <span class="l" style="letter-spacing:1.1px">7649</span>的重铬<br>酸锌钢销和钢套上，在不同固化时间下<br>的破坏强度。</div>

<div class="t hd" style="left:42px;top:1068px;">产品使用方式</div>

<div class="t g" style="left:337px;top:1138.5px;font-size:17px;line-height:27.6px;">1.</div>
<div class="t g" style="left:362px;top:1136px;font-size:22px;line-height:27.6px;">为了获得最佳效果，建议使用乐泰清洗<br>剂彻底清洗材料内外表面，待表面干燥<br>后再进行施胶装配</div>
</body>
</html>
